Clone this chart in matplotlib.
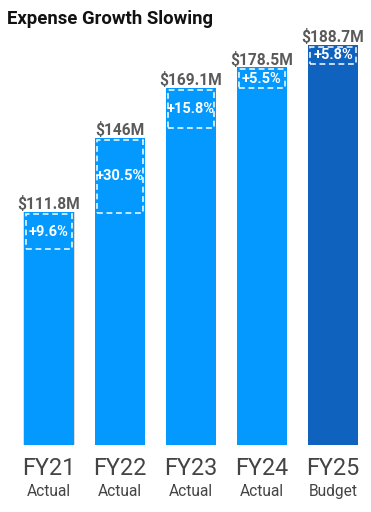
import matplotlib.pyplot as plt
from matplotlib.patches import Rectangle
from matplotlib.transforms import blended_transform_factory

# data
years = ['FY21', 'FY22', 'FY23', 'FY24', 'FY25']
kinds = ['Actual', 'Actual', 'Actual', 'Actual', 'Budget']
expense = [111.8, 146.0, 169.1, 178.5, 188.7]
value_labels = ['$111.8M', '$146M', '$169.1M', '$178.5M', '$188.7M']
growth_labels = ['+9.6%', '+30.5%', '+15.8%', '+5.5%', '+5.8%']
# height of the dashed "growth" box, in $M
box_height = [17.0, 34.5, 18.5, 9.7, 8.7]

light = '#0399fe'
dark = '#0f63be'
colors = [light, light, light, light, dark]

plt.rcParams['font.family'] = ['Roboto', 'DejaVu Sans']

fig = plt.figure(figsize=(3.71, 5.12), dpi=100)
ax = fig.add_axes([0, 67 / 512, 1, 445 / 512])

x = list(range(len(years)))
w = 0.704

# soft shadow behind the first bar
ax.bar(x[0], expense[0], width=w + 0.035, color='#999999', alpha=0.35, zorder=1)
ax.bar(x, expense, width=w, color=colors, zorder=2)

trans_fig = blended_transform_factory(ax.transData, fig.transFigure)
for i in x:
    top = expense[i]
    # dashed box showing the growth part
    box = Rectangle((i - w / 2 + 0.025, top - box_height[i]), w - 0.05, box_height[i] - 0.9,
                    fill=False, edgecolor='white', linestyle=(0, (3.5, 2.2)),
                    linewidth=1.2, alpha=0.9, zorder=3)
    ax.add_patch(box)
    ax.text(i, top - box_height[i] / 2 - 0.4, growth_labels[i], ha='center', va='center',
            color='white', fontsize=10.5, fontweight='bold', zorder=4)
    ax.annotate(value_labels[i], (i, top), xytext=(0, 2), textcoords='offset points',
                ha='center', va='baseline', fontsize=11.2, fontweight='bold', color='#5a5a5a')
    ax.text(i, 1 - 475 / 512, years[i], transform=trans_fig, ha='center', va='baseline',
            fontsize=16.8, color='#444444')
    ax.text(i, 1 - 496 / 512, kinds[i], transform=trans_fig, ha='center', va='baseline',
            fontsize=11.2, color='#444444')

ax.set_xlim(-49 / 71, 4 + 38 / 71)
ax.set_ylim(4.6, 209.5)
ax.axis('off')

fig.text(7 / 371, 1 - 24 / 512, 'Expense Growth Slowing', ha='left', va='baseline',
         fontsize=13.3, fontweight='bold', color='#111111')

fig.savefig('out.png', dpi=100)
